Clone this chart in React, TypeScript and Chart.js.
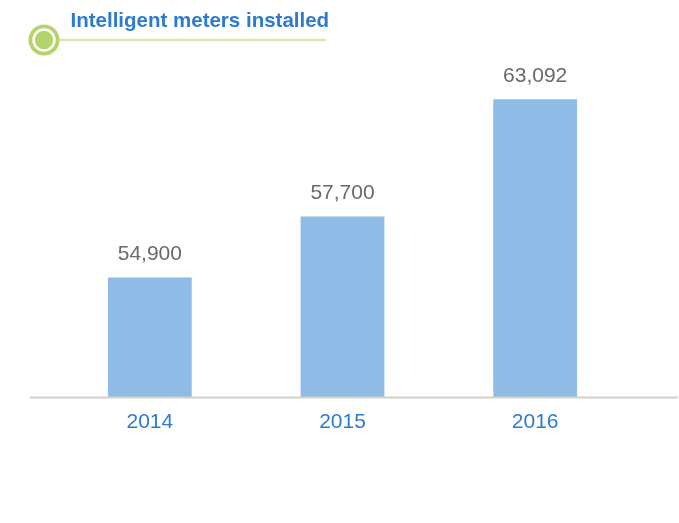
import React, { useEffect, useRef } from "react";
import { Chart, registerables } from "chart.js";

Chart.register(...registerables);

const years = ["2014", "2015", "2016"];
const metersInstalled = [54900, 57700, 63092];
const chartTitle = "Intelligent meters installed";

const BAR = "#8fbbe7";
const BLUE = "#2b7bd3";
const GREY = "#6a6a6a";
const AXIS = "#d6d0c5";
const GREEN = "#b4d46b";
const GREEN_LINE = "#d8eab2";
const FONT = "'Liberation Sans', Arial, Helvetica, sans-serif";

const decorPlugin = {
  id: "decor",
  afterDatasetsDraw(chart: any) {
    const { ctx, chartArea } = chart;
    ctx.save();
    ctx.strokeStyle = AXIS;
    ctx.lineWidth = 2;
    ctx.beginPath();
    ctx.moveTo(30, chartArea.bottom + 0.5);
    ctx.lineTo(678, chartArea.bottom + 0.5);
    ctx.stroke();

    const meta = chart.getDatasetMeta(0);
    ctx.fillStyle = GREY;
    ctx.font = `21px ${FONT}`;
    ctx.textAlign = "center";
    ctx.textBaseline = "middle";
    meta.data.forEach((bar: any, i: number) => {
      ctx.fillText(metersInstalled[i].toLocaleString("en-US"), bar.x, bar.y - 23);
    });
    ctx.restore();
  },
};

export default function App() {
  const canvasRef = useRef<HTMLCanvasElement | null>(null);

  useEffect(() => {
    if (!canvasRef.current) return;
    const chart = new Chart(canvasRef.current, {
      type: "bar",
      data: {
        labels: years,
        datasets: [
          {
            data: metersInstalled,
            backgroundColor: BAR,
            barPercentage: 0.435,
            categoryPercentage: 1,
          },
        ],
      },
      options: {
        animation: false,
        responsive: false,
        devicePixelRatio: 1,
        layout: { padding: { left: 53.5, right: 47.5, top: 60, bottom: 74.8 } },
        scales: {
          x: {
            grid: { display: false, drawTicks: false },
            border: { display: false },
            ticks: { color: BLUE, font: { family: FONT, size: 21 }, padding: 13 },
          },
          y: { display: false, min: 49400, max: 64900 },
        },
        plugins: { legend: { display: false }, tooltip: { enabled: false } },
      },
      plugins: [decorPlugin],
    });
    return () => chart.destroy();
  }, []);

  return (
    <div style={{ position: "absolute", left: 0, top: 0, width: 679, height: 523, background: "#fff" }}>
      <canvas ref={canvasRef} width={679} height={523} style={{ display: "block" }} />
      <svg
        width={679}
        height={60}
        style={{ position: "absolute", left: 0, top: 0, pointerEvents: "none" }}
      >
        <line x1={58} y1={40} x2={326} y2={40} stroke={GREEN_LINE} strokeWidth={2.5} />
        <circle cx={44} cy={40} r={13.6} fill="#fff" stroke={GREEN} strokeWidth={3.8} />
        <circle cx={44} cy={40} r={9.2} fill={GREEN} />
        <text x={70.5} y={26.5} fill={BLUE} fontFamily={FONT} fontSize={20.5} fontWeight="bold">
          {chartTitle}
        </text>
      </svg>
    </div>
  );
}
